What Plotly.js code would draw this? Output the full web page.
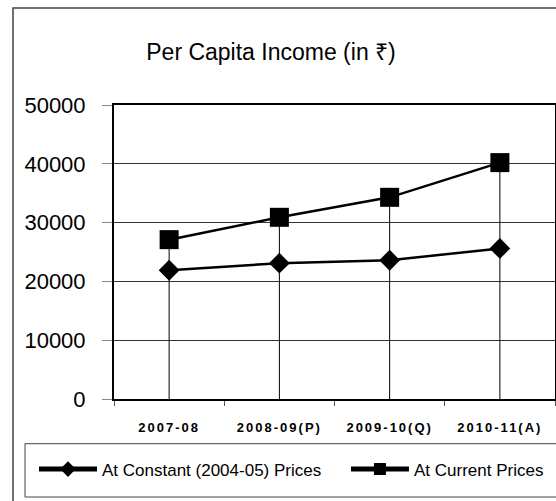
<!DOCTYPE html>
<html>
<head>
<meta charset="utf-8">
<script src="https://cdn.plot.ly/plotly-3.0.1.min.js"></script>
<style>html,body{margin:0;padding:0;background:#fff;} #chart{width:556px;height:501px;}</style>
</head>
<body>
<div id="chart"></div>
<script>
var years = ["2007-08", "2008-09(P)", "2009-10(Q)", "2010-11(A)"];
var constantPrices = [21900, 23100, 23600, 25600];
var currentPrices = [27100, 30900, 34300, 40200];
var seriesNames = ["At Constant (2004-05) Prices", "At Current Prices"];
var yTicks = [0, 10000, 20000, 30000, 40000, 50000];

var dropMinus = currentPrices.map(function (v) { return v; });
var dropPlus = currentPrices.map(function () { return 0; });

var traces = [
  {
    x: years, y: constantPrices, name: seriesNames[0], type: "scatter", mode: "lines+markers",
    line: {color: "#000", width: 2.5},
    marker: {symbol: "diamond", size: 16, color: "#000"},
    legend: "legend"
  },
  {
    x: years, y: currentPrices, name: seriesNames[1], type: "scatter", mode: "lines+markers",
    line: {color: "#000", width: 2.5},
    marker: {symbol: "square", size: 19, color: "#000"},
    error_y: {type: "data", symmetric: false, array: dropPlus, arrayminus: dropMinus,
              color: "#000", thickness: 1, width: 0},
    legend: "legend2"
  }
];

var legendFont = {family: "Liberation Sans, Arial, sans-serif", size: 17, color: "#000"};

var layout = {
  width: 556, height: 501,
  margin: {l: 114, r: 1, t: 105, b: 102},
  paper_bgcolor: "#fff", plot_bgcolor: "#fff",
  showlegend: true,
  title: {
    text: "Per Capita Income (in ₹)",
    font: {family: "Liberation Sans, Arial, sans-serif", size: 23, color: "#000"},
    xref: "paper", x: 0.356, xanchor: "center",
    yref: "container", y: 0.896, yanchor: "middle"
  },
  xaxis: {
    type: "category", range: [-0.5, years.length - 0.5],
    showline: true, linecolor: "#000", linewidth: 2, mirror: true,
    showgrid: false, zeroline: false,
    ticks: "outside", tickson: "boundaries", ticklen: 5, tickcolor: "#555", tickwidth: 1,
    tickfont: {family: "Liberation Sans, Arial, sans-serif", size: 13, color: "#000", weight: "bold"},
    ticklabelstandoff: 15,
    fixedrange: true
  },
  yaxis: {
    range: [0, 50000], tickvals: yTicks, ticktext: yTicks.map(String),
    showline: true, linecolor: "#000", linewidth: 2, mirror: true,
    showgrid: true, gridcolor: "#333", gridwidth: 1, zeroline: false,
    ticks: "outside", ticklen: 10, tickcolor: "#888", tickwidth: 1,
    tickfont: {family: "Liberation Sans, Arial, sans-serif", size: 22, color: "#000"},
    ticklabelstandoff: 12,
    fixedrange: true
  },
  legend: {
    orientation: "h", x: -0.1814, xanchor: "left", y: -0.24, yanchor: "middle",
    bgcolor: "rgba(0,0,0,0)", borderwidth: 0, font: legendFont,
    itemwidth: 58, itemsizing: "constant"
  },
  legend2: {
    orientation: "h", x: 0.526, xanchor: "left", y: -0.24, yanchor: "middle",
    bgcolor: "rgba(0,0,0,0)", borderwidth: 0, font: legendFont,
    itemwidth: 58, itemsizing: "constant"
  },
  shapes: [
    {type: "rect", xref: "paper", yref: "paper", x0: -0.229, x1: 1.2, y0: -0.4, y1: 1.3296,
     line: {color: "#444", width: 1.5}, fillcolor: "rgba(0,0,0,0)", layer: "below"},
    {type: "rect", xref: "paper", yref: "paper", x0: -0.2018, x1: 1.2, y0: -0.3334, y1: -0.152,
     line: {color: "#444", width: 1}, fillcolor: "rgba(0,0,0,0)", layer: "below"}
  ]
};

Plotly.newPlot("chart", traces, layout, {displayModeBar: false, staticPlot: true}).then(function (gd) {
  var labels = gd.querySelectorAll(".xtick text");
  for (var i = 0; i < labels.length; i++) { labels[i].style.letterSpacing = "2px"; }
});
</script>
</body>
</html>
